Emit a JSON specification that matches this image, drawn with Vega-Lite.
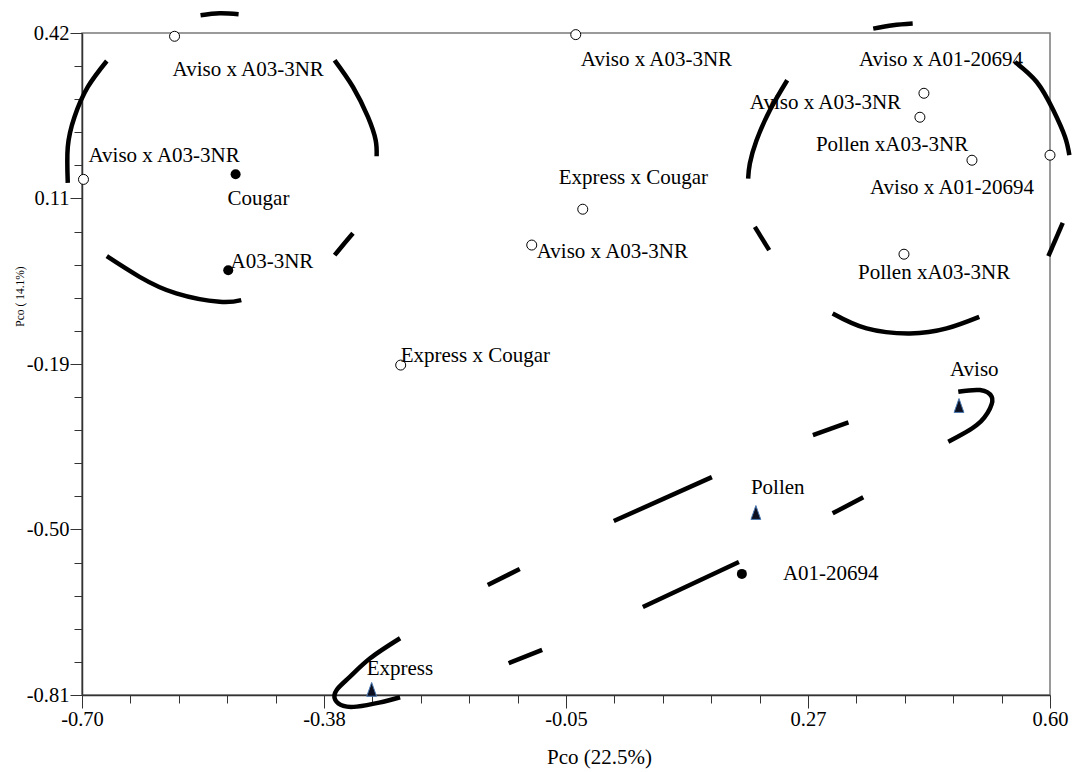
{
  "$schema": "https://vega.github.io/schema/vega-lite/v6.json",
  "width": 968,
  "height": 662,
  "autosize": {"type": "none"},
  "padding": {"left": 82, "top": 33, "right": 27, "bottom": 77},
  "background": "white",
  "config": {
    "view": {"stroke": "#7a7a7a", "strokeWidth": 1.5},
    "axis": {
      "labelFont": "Liberation Serif",
      "labelFontSize": 20.5,
      "labelColor": "black",
      "titleFont": "Liberation Serif",
      "titleFontWeight": "normal",
      "titleColor": "black",
      "domainColor": "#333333",
      "domainWidth": 1.5,
      "tickColor": "#333333",
      "grid": false,
      "labelOverlap": false,
      "labelFlush": false
    },
    "text": {"font": "Liberation Serif"}
  },
  "datasets": {
    "curves": [
      {"seg": "L1", "i": 0, "x": -0.5408, "y": 0.4529},
      {"seg": "L1", "i": 1, "x": -0.5152, "y": 0.4566},
      {"seg": "L1", "i": 2, "x": -0.4897, "y": 0.4547},
      {"seg": "L2", "i": 0, "x": -0.6667, "y": 0.368},
      {"seg": "L2", "i": 1, "x": -0.6922, "y": 0.3197},
      {"seg": "L2", "i": 2, "x": -0.7101, "y": 0.264},
      {"seg": "L2", "i": 3, "x": -0.7191, "y": 0.2083},
      {"seg": "L2", "i": 4, "x": -0.7191, "y": 0.1414},
      {"seg": "L3", "i": 0, "x": -0.3607, "y": 0.3693},
      {"seg": "L3", "i": 1, "x": -0.3361, "y": 0.3197},
      {"seg": "L3", "i": 2, "x": -0.316, "y": 0.264},
      {"seg": "L3", "i": 3, "x": -0.3056, "y": 0.2207},
      {"seg": "L3", "i": 4, "x": -0.3043, "y": 0.191},
      {"seg": "L4", "i": 0, "x": -0.3361, "y": 0.048},
      {"seg": "L4", "i": 1, "x": -0.3486, "y": 0.0276},
      {"seg": "L4", "i": 2, "x": -0.3607, "y": 0.0072},
      {"seg": "L5", "i": 0, "x": -0.6667, "y": 0.0053},
      {"seg": "L5", "i": 1, "x": -0.6227, "y": -0.0331},
      {"seg": "L5", "i": 2, "x": -0.5734, "y": -0.0639},
      {"seg": "L5", "i": 3, "x": -0.5152, "y": -0.0795},
      {"seg": "L5", "i": 4, "x": -0.4861, "y": -0.0764},
      {"seg": "R1", "i": 0, "x": 0.3626, "y": 0.4282},
      {"seg": "R1", "i": 1, "x": 0.3891, "y": 0.4343},
      {"seg": "R1", "i": 2, "x": 0.4156, "y": 0.4375},
      {"seg": "R2", "i": 0, "x": 0.553, "y": 0.3661},
      {"seg": "R2", "i": 1, "x": 0.5822, "y": 0.329},
      {"seg": "R2", "i": 2, "x": 0.6045, "y": 0.2765},
      {"seg": "R2", "i": 3, "x": 0.6202, "y": 0.2269},
      {"seg": "R2", "i": 4, "x": 0.626, "y": 0.1929},
      {"seg": "R3", "i": 0, "x": 0.2471, "y": 0.3322},
      {"seg": "R3", "i": 1, "x": 0.2238, "y": 0.2765},
      {"seg": "R3", "i": 2, "x": 0.2059, "y": 0.2207},
      {"seg": "R3", "i": 3, "x": 0.1969, "y": 0.1775},
      {"seg": "R3", "i": 4, "x": 0.1946, "y": 0.1496},
      {"seg": "R4", "i": 0, "x": 0.2036, "y": 0.0597},
      {"seg": "R4", "i": 1, "x": 0.2229, "y": 0.0165},
      {"seg": "R5", "i": 0, "x": 0.6171, "y": 0.0672},
      {"seg": "R5", "i": 1, "x": 0.5978, "y": 0.0053},
      {"seg": "R6", "i": 0, "x": 0.3081, "y": -0.1011},
      {"seg": "R6", "i": 1, "x": 0.3537, "y": -0.1289},
      {"seg": "R6", "i": 2, "x": 0.4119, "y": -0.1382},
      {"seg": "R6", "i": 3, "x": 0.4612, "y": -0.1289},
      {"seg": "R6", "i": 4, "x": 0.505, "y": -0.1074},
      {"seg": "D1", "i": 0, "x": -0.2728, "y": -0.7046},
      {"seg": "D1", "i": 1, "x": -0.313, "y": -0.7418},
      {"seg": "D1", "i": 2, "x": -0.34, "y": -0.7759},
      {"seg": "D1", "i": 3, "x": -0.358, "y": -0.8006},
      {"seg": "D1", "i": 4, "x": -0.3598, "y": -0.8192},
      {"seg": "D1", "i": 5, "x": -0.3489, "y": -0.8303},
      {"seg": "D1", "i": 6, "x": -0.3311, "y": -0.8316},
      {"seg": "D1", "i": 7, "x": -0.3009, "y": -0.8242},
      {"seg": "D1", "i": 8, "x": -0.2728, "y": -0.8142},
      {"seg": "D2", "i": 0, "x": -0.127, "y": -0.751},
      {"seg": "D2", "i": 1, "x": -0.082, "y": -0.7263},
      {"seg": "D3", "i": 0, "x": -0.1551, "y": -0.6056},
      {"seg": "D3", "i": 1, "x": -0.1121, "y": -0.5759},
      {"seg": "D4", "i": 0, "x": 0.0142, "y": -0.4868},
      {"seg": "D4", "i": 1, "x": 0.1459, "y": -0.4051},
      {"seg": "D5", "i": 0, "x": 0.0532, "y": -0.6465},
      {"seg": "D5", "i": 1, "x": 0.1822, "y": -0.5629},
      {"seg": "D6", "i": 0, "x": 0.2816, "y": -0.3271},
      {"seg": "D6", "i": 1, "x": 0.3293, "y": -0.3035},
      {"seg": "D7", "i": 0, "x": 0.3081, "y": -0.4725},
      {"seg": "D7", "i": 1, "x": 0.3492, "y": -0.4428},
      {"seg": "D8", "i": 0, "x": 0.4768, "y": -0.2467},
      {"seg": "D8", "i": 1, "x": 0.506, "y": -0.2435},
      {"seg": "D8", "i": 2, "x": 0.5217, "y": -0.256},
      {"seg": "D8", "i": 3, "x": 0.5194, "y": -0.2775},
      {"seg": "D8", "i": 4, "x": 0.5016, "y": -0.3085},
      {"seg": "D8", "i": 5, "x": 0.4634, "y": -0.3395}
    ],
    "points": [
      {"type": "hybrid", "x": -0.5757, "y": 0.4139},
      {"type": "hybrid", "x": -0.698, "y": 0.148},
      {"type": "hybrid", "x": -0.0369, "y": 0.417},
      {"type": "hybrid", "x": -0.0275, "y": 0.0926},
      {"type": "hybrid", "x": -0.096, "y": 0.026},
      {"type": "hybrid", "x": -0.272, "y": -0.197},
      {"type": "hybrid", "x": 0.4307, "y": 0.308},
      {"type": "hybrid", "x": 0.4253, "y": 0.2635},
      {"type": "hybrid", "x": 0.4952, "y": 0.1836},
      {"type": "hybrid", "x": 0.6, "y": 0.193},
      {"type": "hybrid", "x": 0.4039, "y": 0.009},
      {"type": "parent", "x": -0.4937, "y": 0.1576},
      {"type": "parent", "x": -0.5036, "y": -0.0207},
      {"type": "parent", "x": 0.1862, "y": -0.585},
      {"type": "variety", "x": 0.4778, "y": -0.2732},
      {"type": "variety", "x": 0.205, "y": -0.472},
      {"type": "variety", "x": -0.311, "y": -0.8006}
    ],
    "labels": [
      {"label": "Aviso x A03-3NR", "lx": -0.5784, "ly": 0.3507},
      {"label": "Aviso x A03-3NR", "lx": -0.6913, "ly": 0.191},
      {"label": "Aviso x A03-3NR", "lx": -0.0301, "ly": 0.3693},
      {"label": "Express x Cougar", "lx": -0.0597, "ly": 0.1502},
      {"label": "Aviso x A03-3NR", "lx": -0.0893, "ly": 0.0123},
      {"label": "Express x Cougar", "lx": -0.272, "ly": -0.1804},
      {"label": "Aviso x A01-20694", "lx": 0.3434, "ly": 0.3693},
      {"label": "Aviso x A03-3NR", "lx": 0.1969, "ly": 0.2895},
      {"label": "Pollen xA03-3NR", "lx": 0.2856, "ly": 0.2115},
      {"label": "Aviso x A01-20694", "lx": 0.3582, "ly": 0.1316},
      {"label": "Pollen xA03-3NR", "lx": 0.3421, "ly": -0.0263},
      {"label": "Cougar", "lx": -0.5045, "ly": 0.1112},
      {"label": "A03-3NR", "lx": -0.5005, "ly": -0.0058},
      {"label": "A01-20694", "lx": 0.2413, "ly": -0.5852},
      {"label": "Aviso", "lx": 0.4657, "ly": -0.2064},
      {"label": "Pollen", "lx": 0.1983, "ly": -0.4255},
      {"label": "Express", "lx": -0.3177, "ly": -0.7609}
    ]
  },
  "resolve": {"axis": {"x": "independent", "y": "independent"}},
  "layer": [
    {
      "data": {"name": "curves"},
      "mark": {"type": "line", "color": "black", "strokeWidth": 4.5, "interpolate": "natural", "strokeCap": "butt", "clip": false},
      "encoding": {
        "x": {
          "field": "x", "type": "quantitative",
          "scale": {"domain": [-0.7, 0.6], "nice": false, "zero": false},
          "axis": {
            "orient": "bottom",
            "values": [-0.7, -0.375, -0.05, 0.275, 0.6],
            "labelExpr": "datum.value < -0.6 ? '-0.70' : datum.value < -0.3 ? '-0.38' : datum.value < 0 ? '-0.05' : datum.value < 0.5 ? '0.27' : '0.60'",
            "tickSize": 13,
            "labelPadding": 1,
            "title": "Pco (22.5%)",
            "titleFontSize": 21,
            "titleX": 517,
            "titleY": 62,
            "titleBaseline": "middle",
            "titleAlign": "center"
          }
        },
        "y": {
          "field": "y", "type": "quantitative",
          "scale": {"domain": [-0.81, 0.42], "nice": false, "zero": false},
          "axis": {
            "orient": "left",
            "values": [-0.81, -0.5025, -0.195, 0.1125, 0.42],
            "labelExpr": "datum.value < -0.7 ? '-0.81' : datum.value < -0.4 ? '-0.50' : datum.value < 0 ? '-0.19' : datum.value < 0.3 ? '0.11' : '0.42'",
            "tickSize": 12,
            "labelPadding": 1,
            "title": "Pco  ( 14.1%)",
            "titleFontSize": 11.5,
            "titleX": -62,
            "titleY": 263,
            "titleAngle": -90,
            "titleBaseline": "middle",
            "titleAlign": "center"
          }
        },
        "detail": {"field": "seg"},
        "order": {"field": "i", "type": "quantitative"}
      }
    },
    {
      "data": {"name": "points"},
      "transform": [{"filter": "datum.type === 'hybrid'"}],
      "mark": {"type": "point", "shape": "circle", "filled": true, "fill": "white", "stroke": "black", "strokeWidth": 1, "size": 100, "opacity": 1, "clip": false},
      "encoding": {
        "x": {
          "field": "x", "type": "quantitative",
          "axis": {
            "orient": "bottom",
            "values": [-0.635, -0.57, -0.505, -0.44, -0.31, -0.245, -0.18, -0.115, 0.015, 0.08, 0.145, 0.21, 0.34, 0.405, 0.47, 0.535],
            "labels": false, "domain": false, "tickSize": 8, "title": null
          }
        },
        "y": {
          "field": "y", "type": "quantitative",
          "axis": {
            "orient": "left",
            "values": [-0.7485, -0.687, -0.6255, -0.564, -0.441, -0.3795, -0.318, -0.2565, -0.1335, -0.072, -0.0105, 0.051, 0.174, 0.2355, 0.297, 0.3585],
            "labels": false, "domain": false, "tickSize": 8, "title": null
          }
        }
      }
    },
    {
      "data": {"name": "points"},
      "transform": [{"filter": "datum.type === 'parent'"}],
      "mark": {"type": "point", "shape": "circle", "filled": true, "color": "black", "size": 100, "opacity": 1},
      "encoding": {
        "x": {"field": "x", "type": "quantitative", "axis": null},
        "y": {"field": "y", "type": "quantitative", "axis": null}
      }
    },
    {
      "data": {"name": "points"},
      "transform": [{"filter": "datum.type === 'variety'"}],
      "mark": {"type": "point", "shape": "M-0.62,0.8L0,-0.95L0.62,0.8Z", "filled": true, "fill": "#0d1020", "stroke": "#4a78b0", "strokeWidth": 1, "size": 250, "opacity": 1, "clip": false},
      "encoding": {
        "x": {"field": "x", "type": "quantitative", "axis": null},
        "y": {"field": "y", "type": "quantitative", "axis": null}
      }
    },
    {
      "data": {"name": "labels"},
      "mark": {"type": "text", "align": "left", "baseline": "middle", "fontSize": 21, "color": "black", "clip": false},
      "encoding": {
        "x": {"field": "lx", "type": "quantitative", "axis": null},
        "y": {"field": "ly", "type": "quantitative", "axis": null},
        "text": {"field": "label"}
      }
    }
  ]
}
